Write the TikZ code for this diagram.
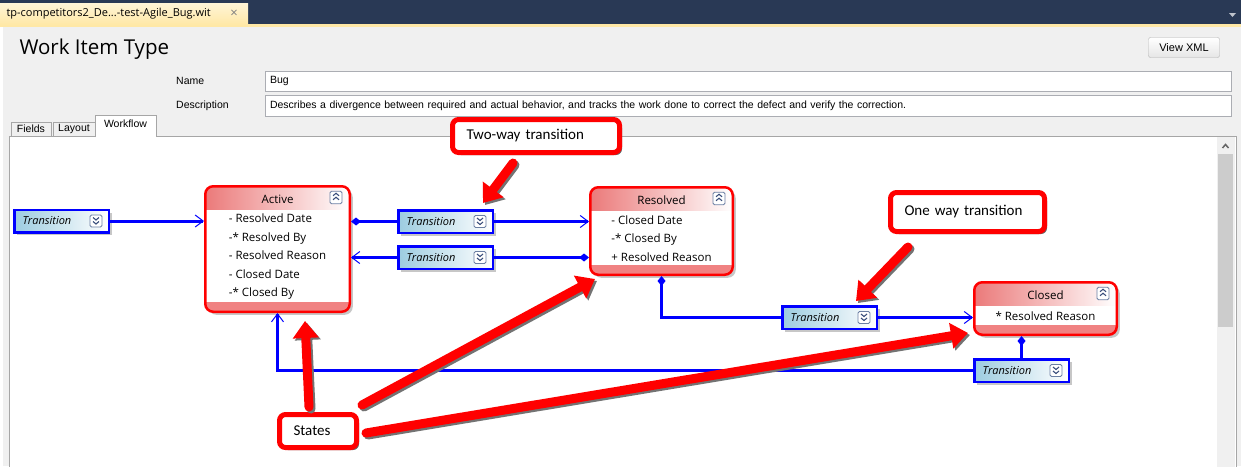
\documentclass[tikz,border=0pt]{standalone}
\usepackage{fontspec}
\setmainfont{Liberation Sans}
\newfontfamily\segoe{Open Sans}
\newfontfamily\calibri{Carlito}
\usetikzlibrary{positioning,shadows,arrows.meta}
\definecolor{vsnavy}{HTML}{293955}
\definecolor{tabyellow}{HTML}{FFE8A6}
\definecolor{panelgray}{HTML}{F0F0F0}
\definecolor{fieldline}{HTML}{ABADB3}
\definecolor{trfill}{HTML}{9CCCE0}
\definecolor{hdred}{HTML}{EB7A7A}
\definecolor{ftred}{HTML}{F08282}
\definecolor{iconline}{HTML}{6B7FA3}
\definecolor{iconchev}{HTML}{3B4F7C}
\tikzset{
  uitext/.style={font=\fontsize{10.5}{12}\selectfont},
  tabtext/.style={font=\segoe\fontsize{11}{13}\selectfont},
  field/.style={uitext, draw=fieldline, fill=white, inner xsep=5pt, text width=956pt, align=left, minimum height=20pt},
  tabline/.style={draw=gray!70},
  transition/.style={draw=blue, line width=2.5pt, left color=trfill, right color=white, minimum width=94.5pt, minimum height=22.5pt, inner sep=0pt, text width=78pt, align=left, font=\segoe\itshape\fontsize{11}{13}\selectfont,
    drop shadow={shadow xshift=3pt, shadow yshift=-3pt, fill=black!22, opacity=1},
    path picture={
      \draw[iconline, fill=white, line width=0.8pt, rounded corners=1.5pt] ([shift={(-18.75pt,-6pt)}]path picture bounding box.east) rectangle ++(12pt,12pt);
      \draw[iconchev, line width=1.1pt, sharp corners] ([shift={(-15.75pt,3.5pt)}]path picture bounding box.east) -- ++(3pt,-2.5pt) -- ++(3pt,2.5pt)
        ([shift={(-15.75pt,-0.5pt)}]path picture bounding box.east) -- ++(3pt,-2.5pt) -- ++(3pt,2.5pt);
    }},
  state/.style={draw=red, line width=2.5pt, rounded corners=8pt, fill=white, inner sep=0pt,
    drop shadow={shadow xshift=3pt, shadow yshift=-3pt, fill=black!22, opacity=1},
    path picture={
      \shade[sharp corners, left color=hdred, right color=white] (path picture bounding box.north west) rectangle ([yshift=-23.5pt]path picture bounding box.north east);
      \fill[sharp corners, ftred] ([yshift=10pt]path picture bounding box.south west) rectangle (path picture bounding box.south east);
      \draw[iconline, fill=white, line width=0.8pt, rounded corners=1.5pt] ([shift={(-19.75pt,-17.5pt)}]path picture bounding box.north east) rectangle ++(12pt,12.5pt);
      \draw[iconchev, line width=1.1pt, sharp corners] ([shift={(-16.75pt,-9.5pt)}]path picture bounding box.north east) -- ++(3pt,2.5pt) -- ++(3pt,-2.5pt)
        ([shift={(-16.75pt,-13.5pt)}]path picture bounding box.north east) -- ++(3pt,2.5pt) -- ++(3pt,-2.5pt);
    }},
  statetitle/.style={inner sep=0pt, font=\segoe\fontsize{11.5}{14}\selectfont},
  stateitems/.style={inner sep=0pt, align=left, font=\segoe\fontsize{11.5}{18.5}\selectfont},
  conn/.style={draw=blue, line width=3pt},
  openend/.style={-{Straight Barb[length=8pt,width=12pt,line width=1pt]}},
  diamondstart/.style={{Diamond[length=10pt,width=8pt]}-},
  callout/.style={draw=red, line width=5pt, rounded corners=6pt, fill=white, inner xsep=14pt, align=left, minimum height=33pt, font=\calibri\fontsize{15}{18}\selectfont,
    drop shadow={shadow xshift=2.5pt, shadow yshift=-2.5pt, fill=black!60, opacity=1}},
  callarrow/.style={draw=red, line width=9pt, line cap=round, -{Triangle[length=17pt,width=25pt]}},
  callshadow/.style={callarrow, draw=black!55, transform canvas={shift={(2pt,-2pt)}}},
}
\begin{document}
\begin{tikzpicture}[x=1pt,y=-1pt]
\useasboundingbox (0,0) rectangle (1241,466);
% window frame
\fill[vsnavy] (0,0) rectangle (1241,27);
\fill[panelgray] (3,27) rectangle (1241,466);
\fill[tabyellow] (0,24) rectangle (1241,27);
\shade[top color=white!55!tabyellow, bottom color=tabyellow] (0,3) rectangle (248,25);
\node[tabtext, anchor=west] (docTab) at (3,14) {tp-competitors2\_De...-test-Agile\_Bug.wit};
\node[tabtext, text=gray, font=\segoe\fontsize{13}{13}\selectfont] (docClose) at (234,14) {×};
\fill[white!70!vsnavy] (1229,13) -- (1236,13) -- (1232.5,17) -- cycle;

% header of the editor
\node[anchor=west, font=\segoe\fontsize{20.5}{24}\selectfont] (witTitle) at (16,49) {Work Item Type};
\node[uitext, draw=gray!60, rounded corners=2pt, top color=white, bottom color=black!10, minimum width=71pt, minimum height=20pt, font=\fontsize{11}{12}\selectfont] (viewXml) at (1184,47.5) {View XML};
\node[uitext, anchor=west, inner sep=0pt] (nameLabel) at (176,81) {Name};
\node[field] (nameField) at (748,81) {Bug};
\node[uitext, anchor=west, inner sep=0pt] (descLabel) at (176,105.5) {Description};
\node[field, minimum height=21pt] (descField) at (748,105.5) {Describes a divergence between required and actual behavior, and tracks the work done to correct the defect and verify the correction.};

% tabs and workflow panel
\draw[tabline, fill=panelgray] (11,137) |- (51,122) -- (51,137);
\node[uitext] (fieldsTab) at (31,129) {Fields};
\draw[tabline, fill=panelgray] (53,137) |- (95,122) -- (95,137);
\node[uitext] (layoutTab) at (74,129) {Layout};
\draw[tabline, fill=white] (9,470) |- (1236,136) -- (1236,470);
\draw[tabline, fill=white] (95,137) |- (156,115) -- (156,137);
\fill[white] (96,134) rectangle (155,139);
\node[uitext] (workflowTab) at (125.5,124) {Workflow};
\fill[panelgray] (1217,137) rectangle (1235,470);
\fill[black!20] (1218,154) rectangle (1233,327);
\draw[black!60, line width=1.5pt] (1222.5,148) -- (1225.5,144.5) -- (1228.5,148);

% the states
\node[state, minimum width=144.5pt, minimum height=125.5pt] (active) at (277.5,249) {};
\node[state, minimum width=142.5pt, minimum height=87.5pt] (resolved) at (661.5,231) {};
\node[state, minimum width=142.5pt, minimum height=52.5pt] (closed) at (1045.5,308.5) {};
\node[statetitle] (activeT) at ([yshift=-14.5pt]active.north) {Active};
\node[statetitle] (resolvedT) at ([yshift=-14pt]resolved.north) {Resolved};
\node[statetitle] (closedT) at ([yshift=-14.5pt]closed.north) {Closed};
\node[stateitems] (activeItems) at ([yshift=-8pt]active.center) {- Resolved Date\\-* Resolved By\\- Resolved Reason\\- Closed Date\\-* Closed By};
\node[stateitems] (resolvedItems) at ([yshift=-7.5pt]resolved.center) {- Closed Date\\-* Closed By\\+ Resolved Reason};
\node[stateitems] (closedItems) at ([yshift=-7.5pt]closed.center) {* Resolved Reason};

% the transitions
\node[transition] (trStart) at (61.5,221) {Transition};
\node[transition] (trFwd) at (445.5,221.5) {Transition};
\node[transition] (trBack) at (445.5,257.5) {Transition};
\node[transition] (trClose) at (829.5,317.5) {Transition};
\node[transition] (trReopen) at (1021.5,370.5) {Transition};

% connectors
\draw[conn, openend] (trStart.east) -- (trStart.east -| active.west);
\draw[conn, diamondstart] (trFwd.west -| active.east) -- (trFwd.west);
\draw[conn, openend] (trFwd.east) -- (trFwd.east -| resolved.west);
\draw[conn, openend] (trBack.west) -- (trBack.west -| active.east);
\draw[conn, diamondstart] (trBack.east -| resolved.west) -- (trBack.east);
\draw[conn, diamondstart] (resolved.south) |- (trClose.west);
\draw[conn, openend] (trClose.east) -- (trClose.east -| closed.west);
\draw[conn, diamondstart] (closed.south -| trReopen.north) -- (trReopen.north);
\draw[conn, openend] (trReopen.west) -| (active.south);

% callouts
\node[callout, text width=139pt] (twoWay) at (536,136) {Two-way transition};
\node[callout, text width=126pt, minimum height=39pt] (oneWay) at (967.5,212) {One way transition};
\node[callout, text width=49pt] (states) at (318,431) {States};

\draw[callshadow] ([xshift=-23pt,yshift=-8pt]twoWay.south) -- ([xshift=37.5pt,yshift=6pt]trFwd.north);
\draw[callarrow] ([xshift=-23pt,yshift=-8pt]twoWay.south) -- ([xshift=37.5pt,yshift=6pt]trFwd.north);
\draw[callshadow] ([xshift=20pt,yshift=-13pt]oneWay.south west) -- ([xshift=26.5pt,yshift=4pt]trClose.north);
\draw[callarrow] ([xshift=20pt,yshift=-13pt]oneWay.south west) -- ([xshift=26.5pt,yshift=4pt]trClose.north);
\draw[callshadow] ([xshift=-9pt,yshift=5pt]states.north) -- ([xshift=27.5pt,yshift=-8pt]active.south);
\draw[callarrow] ([xshift=-9pt,yshift=5pt]states.north) -- ([xshift=27.5pt,yshift=-8pt]active.south);
\draw[callshadow] ([xshift=3pt,yshift=7pt]states.north east) -- ([xshift=6pt,yshift=-3pt]resolved.south west);
\draw[callarrow] ([xshift=3pt,yshift=7pt]states.north east) -- ([xshift=6pt,yshift=-3pt]resolved.south west);
\draw[callshadow] ([xshift=7pt,yshift=-2pt]states.east) -- ([xshift=-5pt,yshift=3pt]closed.south west);
\draw[callarrow] ([xshift=7pt,yshift=-2pt]states.east) -- ([xshift=-5pt,yshift=3pt]closed.south west);
\end{tikzpicture}
\end{document}
